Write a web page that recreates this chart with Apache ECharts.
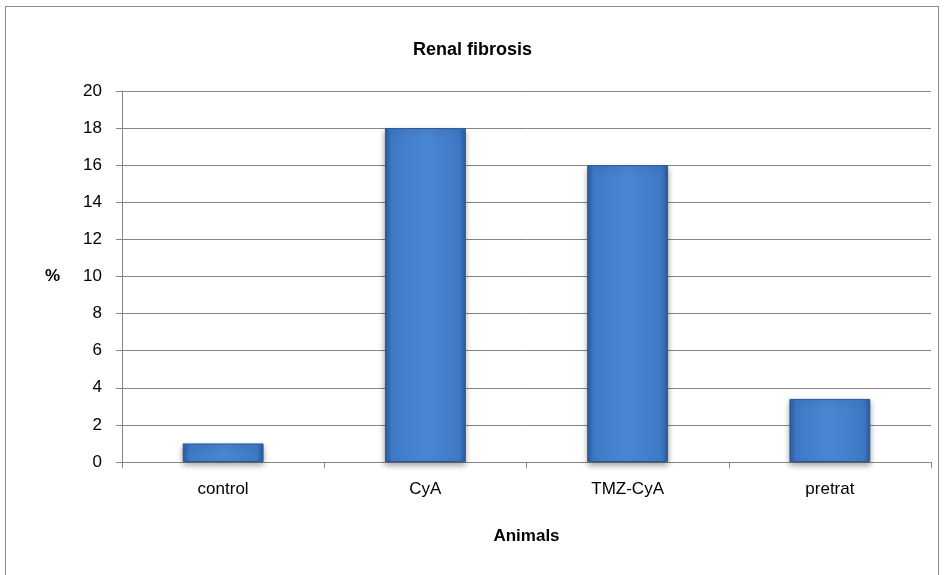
<!DOCTYPE html>
<html>
<head>
<meta charset="utf-8">
<script src="https://cdn.jsdelivr.net/npm/echarts@6/dist/echarts.min.js"></script>
<style>
  html, body { margin: 0; padding: 0; background: #fff; }
  #chart { width: 945px; height: 575px; }
  .frame { position: absolute; left: 5px; top: 6px; width: 932px; height: 580px; border: 1px solid #8c8c8c; pointer-events: none; }
</style>
</head>
<body>
<div id="chart"></div>
<div class="frame"></div>
<script>
const categories = ['control', 'CyA', 'TMZ-CyA', 'pretrat'];
const fibrosis = [1, 18, 16, 3.4];
const yTicks = { min: 0, max: 20, interval: 2 };

const chart = echarts.init(document.getElementById('chart'), null, { renderer: 'canvas' });

const barColor = new echarts.graphic.LinearGradient(0, 0, 1, 0, [
  { offset: 0, color: '#2b5d9e' },
  { offset: 0.08, color: '#3e79c6' },
  { offset: 0.5, color: '#4a87d3' },
  { offset: 0.92, color: '#3e79c6' },
  { offset: 1, color: '#2b5d9e' }
]);

const option = {
  animation: false,
  textStyle: { fontFamily: 'Liberation Sans', color: '#000' },
  title: {
    text: 'Renal fibrosis',
    left: 'center',
    top: 36,
    textStyle: { fontSize: 18, fontWeight: 'bold', color: '#000' }
  },
  grid: { left: 122, right: 14, top: 91, bottom: 113 },
  xAxis: {
    type: 'category',
    data: categories,
    name: 'Animals',
    nameLocation: 'middle',
    nameGap: 66,
    nameTextStyle: { fontSize: 17, fontWeight: 'bold', color: '#000' },
    axisLine: { lineStyle: { color: '#868686', width: 1 } },
    axisTick: { show: true, alignWithLabel: false, length: 6, lineStyle: { color: '#868686' } },
    axisLabel: { fontSize: 17, color: '#000', margin: 19 }
  },
  yAxis: {
    type: 'value',
    min: yTicks.min,
    max: yTicks.max,
    interval: yTicks.interval,
    name: '%',
    nameLocation: 'middle',
    nameRotate: 0,
    nameGap: 62,
    nameTextStyle: { fontSize: 17, fontWeight: 'bold', color: '#000' },
    axisLine: { show: true, lineStyle: { color: '#868686', width: 1 } },
    axisTick: { show: true, length: 6, lineStyle: { color: '#868686' } },
    axisLabel: { fontSize: 17, color: '#000', margin: 20 },
    splitLine: { lineStyle: { color: '#868686', width: 1 } }
  },
  series: [{
    type: 'bar',
    data: fibrosis,
    barWidth: '40%',
    itemStyle: {
      color: barColor,
      borderColor: '#2a5a98',
      borderWidth: 1,
      shadowColor: 'rgba(0,0,0,0.35)',
      shadowBlur: 6,
      shadowOffsetY: 3
    }
  }]
};

chart.setOption(option);
window.addEventListener('resize', chart.resize);
</script>
</body>
</html>
